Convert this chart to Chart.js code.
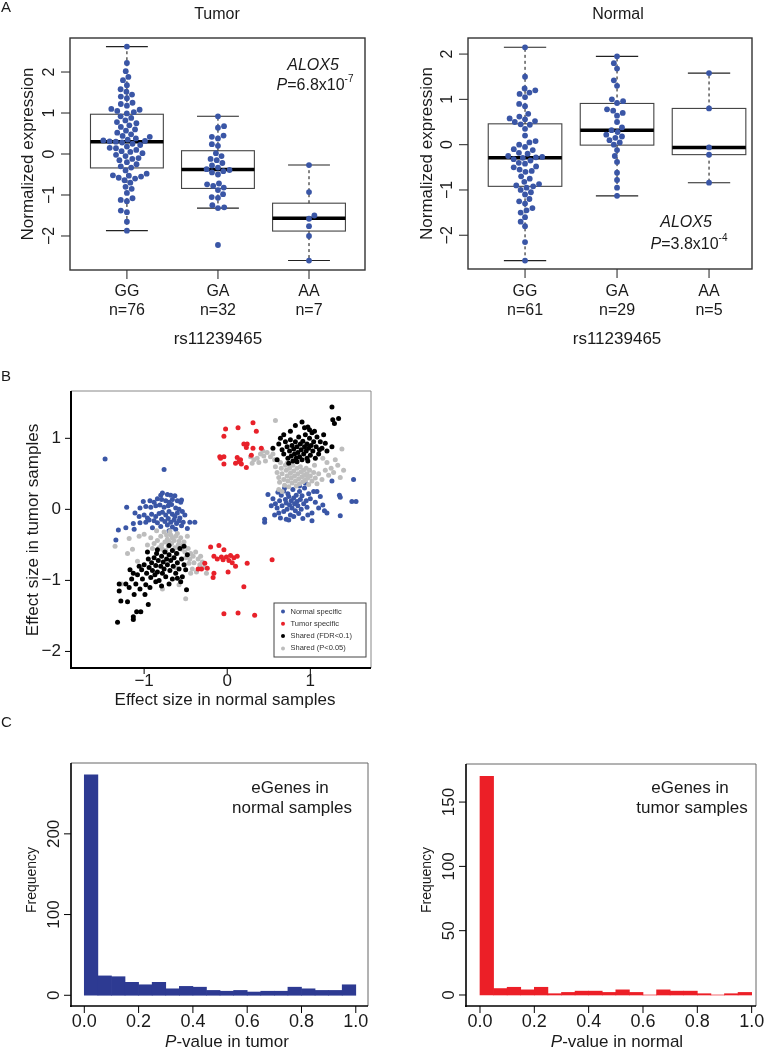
<!DOCTYPE html>
<html>
<head>
<meta charset="utf-8">
<script src="https://cdn.jsdelivr.net/npm/chart.js@4.4.1/dist/chart.umd.min.js"></script>
<style>
  html, body { margin: 0; padding: 0; background: #fff; }
  #wrap { position: relative; width: 767px; height: 1050px; overflow: hidden; }
  #wrap canvas { position: absolute; left: 0; top: 0; }
</style>
</head>
<body>
<div id="wrap">
  <canvas id="tumorBox" width="767" height="1050"></canvas>
  <canvas id="normalBox" width="767" height="1050"></canvas>
  <canvas id="effect" width="767" height="1050"></canvas>
  <canvas id="histNormal" width="767" height="1050"></canvas>
  <canvas id="histTumor" width="767" height="1050"></canvas>
</div>
<script>
// ---------- data ----------
const genotypes = ['GG', 'GA', 'AA'];
const tumorCounts = ['n=76', 'n=32', 'n=7'];
const normalCounts = ['n=61', 'n=29', 'n=5'];
const exprTicks = [-2, -1, 0, 1, 2];

const tumorGG = [2.62, 2.22, 2.02, 1.88, 1.80, 1.68, 1.58, 1.52, 1.45, 1.40, 1.36, 1.25, 1.22, 1.18, 1.10, 1.08, 1.05, 1.02, 0.99,
  0.92, 0.88, 0.82, 0.78, 0.75, 0.70, 0.66, 0.60, 0.57, 0.52, 0.48, 0.44, 0.42, 0.38, 0.35, 0.33, 0.32, 0.31, 0.30,
  0.28, 0.25, 0.22, 0.18, 0.15, 0.14, 0.10, 0.07, 0.05, 0.02, -0.02, -0.05, -0.10, -0.12, -0.15, -0.20, -0.25, -0.30, -0.33,
  -0.40, -0.48, -0.52, -0.53, -0.55, -0.58, -0.60, -0.64, -0.70, -0.80, -0.85, -0.95, -1.08, -1.12, -1.15, -1.38, -1.42, -1.65, -1.87];
const tumorGA = [0.92, 0.68, 0.64, 0.45, 0.42, 0.38, 0.24, 0.20,
  0.02, -0.05, -0.12, -0.15, -0.22, -0.28, -0.33, -0.37,
  -0.39, -0.42, -0.45, -0.50, -0.72, -0.74, -0.78, -0.82,
  -0.88, -0.98, -1.05, -1.07, -1.25, -1.30, -1.32, -2.22];
const tumorAA = [-0.27, -0.93, -1.50, -1.58, -1.76, -2.00, -2.60];

const normalGG = [2.15, 1.50, 1.24, 1.20, 1.15, 1.12, 1.05, 0.90, 0.85, 0.68, 0.62, 0.58, 0.56, 0.52, 0.50,
  0.45, 0.44, 0.35, 0.20, 0.08, 0.05, 0.00, -0.05, -0.10, -0.12, -0.18, -0.20, -0.25, -0.27, -0.28,
  -0.29,
  -0.32, -0.35, -0.40, -0.42, -0.48, -0.50, -0.55, -0.58, -0.60, -0.70, -0.75, -0.82, -0.87, -0.90, -0.92,
  -0.95, -1.00, -1.05, -1.10, -1.20, -1.25, -1.30, -1.40, -1.45, -1.50, -1.60, -1.70, -1.80, -2.15, -2.56];
const normalGA = [1.95, 1.80, 1.68, 1.42, 1.30, 1.00, 0.96,
  0.92, 0.78, 0.75, 0.70, 0.64, 0.50, 0.38,
  0.32,
  0.28, 0.22, 0.18, 0.15, 0.10, 0.05, 0.00,
  -0.12, -0.25, -0.38, -0.62, -0.78, -0.95, -1.13];
const normalAA = [1.58, 0.80, -0.06, -0.22, -0.84];

// [lower whisker, Q1, median, Q3, upper whisker]
const tumorBoxes = [[-1.87, -0.34, 0.30, 0.97, 2.62], [-1.32, -0.84, -0.38, 0.08, 0.92], [-2.60, -1.88, -1.57, -1.20, -0.27]];
const normalBoxes = [[-2.56, -0.92, -0.29, 0.46, 2.15], [-1.13, -0.01, 0.32, 0.91, 1.95], [-0.84, -0.22, -0.06, 0.80, 1.58]];

const effectXTicks = [-1, 0, 1];
const effectYTicks = [-2, -1, 0, 1];

const normalSpecific = [
  [-1.47, 0.71], [-0.76, 0.56], [-1.21, 0.03], [-1.34, -0.43], [-1.31, -0.29], [-1.22, -0.26], [-1.11, -0.05], [-1.12, -0.28],
  [-0.78, 0.23], [-0.80, 0.20], [-0.72, 0.21], [-0.68, 0.20], [-0.63, 0.19], [-0.60, 0.12], [-0.56, 0.10], [-0.55, 0.13],
  [-1.01, 0.11], [-0.93, 0.12], [-0.88, 0.10], [-0.84, 0.15], [-0.79, 0.14], [-0.74, 0.12], [-0.70, 0.10], [-0.66, 0.14],
  [-1.05, 0.02], [-0.98, 0.04], [-0.92, 0.03], [-0.86, 0.05], [-0.81, 0.06], [-0.76, 0.03], [-0.71, 0.05], [-0.67, 0.07],
  [-0.62, 0.02], [-0.58, 0.00], [-0.54, -0.03], [-1.06, -0.10], [-1.00, -0.08], [-0.96, -0.12], [-0.91, -0.07], [-0.86, -0.10],
  [-0.82, -0.06], [-0.78, -0.04], [-0.74, -0.08], [-0.70, -0.03], [-0.66, -0.07], [-0.63, -0.10], [-0.60, -0.05], [-0.57, -0.12],
  [-0.51, -0.08], [-1.13, -0.20], [-1.05, -0.19], [-0.98, -0.18], [-0.94, -0.15], [-0.88, -0.16], [-0.84, -0.19], [-0.79, -0.14],
  [-0.75, -0.17], [-0.71, -0.13], [-0.68, -0.18], [-0.64, -0.15], [-0.61, -0.20], [-0.58, -0.16], [-0.53, -0.18], [-0.45, -0.18],
  [-0.39, -0.18], [-0.90, -0.26], [-0.80, -0.24], [-0.72, -0.22], [-0.66, -0.25], [-0.62, -0.28], [-0.55, -0.23], [-0.48, -0.27],
  [-0.70, -0.30],
  [0.45, -0.14], [0.45, -0.18], [0.71, -0.14], [1.02, -0.16], [1.20, -0.05], [1.36, -0.09], [1.50, 0.11], [1.55, 0.11],
  [1.35, 0.20], [1.36, 0.17], [1.26, 0.40], [1.52, 0.42], [0.94, 0.37], [1.08, 0.25], [0.49, 0.21], [0.55, 0.15],
  [0.58, 0.08], [0.60, 0.02], [0.62, -0.05], [0.63, 0.12], [0.65, 0.20], [0.66, 0.05], [0.68, 0.26], [0.68, -0.03],
  [0.70, 0.14], [0.71, 0.09], [0.72, 0.00], [0.73, 0.22], [0.74, 0.18], [0.75, 0.06], [0.76, -0.08], [0.77, 0.12],
  [0.78, 0.02], [0.79, 0.28], [0.80, 0.16], [0.81, 0.08], [0.82, -0.02], [0.83, 0.20], [0.84, 0.11], [0.85, 0.05],
  [0.86, -0.06], [0.87, 0.25], [0.88, 0.14], [0.89, 0.00], [0.90, 0.19], [0.91, -0.13], [0.92, 0.08], [0.93, 0.30],
  [0.95, 0.12], [0.96, 0.03], [0.98, 0.22], [1.00, 0.15], [1.02, -0.05], [1.04, 0.25], [1.06, 0.10], [1.10, 0.02],
  [1.12, 0.18], [1.15, 0.06], [0.57, -0.08], [0.64, -0.12], [0.69, 0.30], [0.74, -0.15], [0.80, -0.10], [0.97, -0.08],
  [0.61, 0.24], [0.53, 0.05], [0.87, 0.33], [1.17, -0.02]
];
const tumorSpecific = [
  [0.31, 1.22], [0.13, 1.15], [-0.02, 1.13], [0.35, 1.10], [-0.04, 1.03], [0.20, 0.92], [0.24, 0.92], [0.23, 0.87],
  [0.31, 0.86], [0.41, 0.86], [-0.09, 0.74], [-0.04, 0.74], [-0.04, 0.64], [0.12, 0.73], [0.14, 0.67], [0.10, 0.65],
  [0.17, 0.64], [0.23, 0.59], [0.29, 0.76], [0.16, 0.70], [-0.08, 0.72],
  [-0.20, -0.53], [-0.10, -0.51], [-0.04, -0.57], [-0.16, -0.66], [-0.07, -0.67], [-0.01, -0.67], [0.04, -0.65], [0.08, -0.68],
  [0.12, -0.66], [-0.05, -0.71], [0.02, -0.72], [-0.12, -0.70], [-0.35, -0.84], [-0.31, -0.84], [-0.27, -0.76], [-0.16, -0.90],
  [-0.17, -0.96], [0.01, -0.88], [0.10, -0.80], [0.24, -0.76], [0.54, -0.71], [0.20, -1.09], [-0.04, -1.47], [0.13, -1.46],
  [0.33, -1.49], [-0.24, -0.83], [0.06, -0.75]
];
const sharedFdr = [
  [-1.32, -1.59], [-1.13, -1.55], [-1.13, -1.51], [-1.28, -1.29], [-1.30, -1.15], [-1.30, -1.05], [-1.09, -1.44], [-1.04, -1.44],
  [-0.95, -1.34], [-0.49, -1.13], [-0.60, -0.97], [-0.52, -0.52], [-0.70, -0.51], [-0.84, -0.57],
  [-1.22, -1.05], [-1.18, -1.10], [-1.15, -0.98], [-1.12, -1.20], [-1.10, -1.05], [-1.08, -0.92], [-1.05, -1.12], [-1.03, -0.85],
  [-1.02, -0.98], [-1.00, -0.78], [-0.98, -1.06], [-0.97, -0.90], [-0.95, -0.70], [-0.94, -0.82], [-0.92, -0.96], [-0.91, -0.75],
  [-0.90, -0.86], [-0.88, -0.68], [-0.87, -0.92], [-0.86, -0.79], [-0.85, -0.62], [-0.84, -0.88], [-0.83, -0.72], [-0.82, -1.00],
  [-0.80, -0.80], [-0.79, -0.66], [-0.78, -0.90], [-0.77, -0.74], [-0.76, -0.84], [-0.75, -0.60], [-0.74, -0.95], [-0.73, -0.70],
  [-0.72, -0.78], [-0.70, -0.64], [-0.69, -0.86], [-0.68, -0.72], [-0.66, -0.58], [-0.65, -0.80], [-0.64, -0.68], [-0.62, -0.90],
  [-0.61, -0.62], [-0.60, -0.75], [-0.58, -0.84], [-0.57, -0.55], [-0.55, -0.70], [-0.54, -0.95], [-0.52, -0.78], [-0.50, -0.85],
  [-0.48, -0.64], [-1.20, -1.30], [-1.17, -0.85], [-0.99, -1.20], [-0.93, -1.10], [-0.86, -1.02], [-0.79, -1.08], [-0.70, -1.05],
  [-0.66, -0.98], [-1.06, -0.80], [-0.96, -0.60], [-1.13, -0.90], [-0.56, -1.02],
  [1.26, 1.44], [1.27, 1.26], [1.34, 1.28], [1.29, 1.21], [0.82, 1.18], [0.97, 1.16], [0.99, 1.12], [1.05, 1.10],
  [0.90, 1.23], [0.64, 1.00], [0.76, 1.10], [1.18, 0.93], [1.26, 0.88], [1.11, 0.84], [0.60, 0.70], [0.55, 0.86],
  [0.84, 0.67], [0.96, 0.72], [0.62, 0.92], [0.66, 0.84], [0.68, 0.78], [0.70, 0.95], [0.72, 0.88], [0.73, 0.72],
  [0.75, 0.82], [0.76, 0.98], [0.77, 0.75], [0.78, 0.90], [0.79, 0.68], [0.80, 0.85], [0.81, 0.78], [0.82, 0.95],
  [0.83, 0.72], [0.84, 0.88], [0.85, 0.80], [0.86, 1.02], [0.87, 0.74], [0.88, 0.92], [0.89, 0.84], [0.90, 0.70],
  [0.91, 0.96], [0.92, 0.78], [0.93, 0.88], [0.94, 1.05], [0.95, 0.82], [0.96, 0.92], [0.97, 0.68], [0.98, 0.86],
  [0.99, 1.00], [1.00, 0.76], [1.01, 0.90], [1.02, 1.08], [1.03, 0.82], [1.04, 0.95], [1.06, 0.72], [1.07, 0.88],
  [1.08, 1.02], [1.10, 0.78], [1.12, 0.95], [1.14, 0.86], [1.16, 1.05], [1.20, 0.82], [0.74, 0.65], [0.68, 1.05],
  [0.93, 1.15]
];
const sharedP = [
  [-1.35, -0.52], [-1.18, -0.41], [-1.06, -0.38], [-1.00, -0.35], [-0.92, -0.40], [-0.85, -0.30], [-0.80, -0.38], [-0.76, -0.32],
  [-0.72, -0.42], [-0.68, -0.36], [-0.64, -0.44], [-0.60, -0.34], [-0.56, -0.40], [-0.52, -0.46], [-0.48, -0.38],
  [-0.88, -0.48], [-0.84, -0.44], [-0.79, -0.50], [-0.75, -0.46], [-0.71, -0.52], [-0.67, -0.48], [-0.63, -0.54], [-0.59, -0.50],
  [-0.55, -0.56], [-0.51, -0.60], [-0.47, -0.55], [-0.44, -0.62], [-0.41, -0.66], [-0.38, -0.60], [-0.35, -0.70], [-0.32, -0.66],
  [-0.30, -0.74], [-0.28, -0.82], [-0.25, -0.90], [-0.33, -0.78], [-0.40, -0.75], [-0.45, -0.70], [-0.37, -0.88], [-0.42, -0.84],
  [-0.78, -0.56], [-0.82, -0.54], [-0.74, -0.58], [-0.70, -0.45], [-0.66, -0.40], [-0.62, -0.38], [-0.58, -0.45], [-0.54, -0.50],
  [-0.60, -0.62], [-0.50, -0.68], [-0.46, -0.76], [-0.44, -0.90], [-0.58, -1.06], [-0.50, -1.26], [-0.78, -1.12], [-1.08, -0.73],
  [-1.20, -0.62], [-1.14, -0.56], [-1.27, -1.05], [-0.62, -0.82], [-0.66, -0.68], [-0.90, -0.55], [-0.96, -0.50], [-0.73, -0.36],
  [-0.69, -0.31], [-0.65, -0.58],
  [0.28, 0.74], [0.32, 0.70], [0.36, 0.72], [0.40, 0.78], [0.44, 0.75], [0.48, 0.80], [0.52, 0.74], [0.30, 0.65],
  [0.38, 0.66], [0.46, 0.68], [0.55, 0.78], [0.58, 1.25], [0.43, 0.82],
  [0.58, 0.60], [0.60, 0.52], [0.62, 0.45], [0.63, 0.38], [0.65, 0.58], [0.66, 0.50], [0.68, 0.42], [0.69, 0.34],
  [0.70, 0.62], [0.71, 0.55], [0.72, 0.47], [0.73, 0.40], [0.74, 0.32], [0.75, 0.58], [0.76, 0.51], [0.77, 0.44],
  [0.78, 0.37], [0.79, 0.62], [0.80, 0.54], [0.81, 0.47], [0.82, 0.40], [0.83, 0.33], [0.84, 0.58], [0.85, 0.50],
  [0.86, 0.43], [0.87, 0.36], [0.88, 0.60], [0.89, 0.53], [0.90, 0.46], [0.91, 0.39], [0.92, 0.55], [0.93, 0.48],
  [0.94, 0.41], [0.95, 0.58], [0.96, 0.50], [0.97, 0.44], [0.98, 0.35], [0.99, 0.55], [1.00, 0.47], [1.02, 0.40],
  [1.04, 0.52], [1.06, 0.44], [1.08, 0.36], [1.10, 0.50], [1.14, 0.42], [1.18, 0.55], [1.22, 0.48], [1.25, 0.58],
  [1.28, 0.52], [1.30, 0.70], [1.33, 0.62], [1.38, 0.85], [1.40, 0.55], [1.36, 0.45], [1.20, 0.66], [1.15, 0.72],
  [0.62, 0.28], [0.66, 0.25], [0.72, 0.65], [0.64, 0.66], [1.05, 0.62], [0.57, 0.70]
];

const binStarts = [0, 0.05, 0.10, 0.15, 0.20, 0.25, 0.30, 0.35, 0.40, 0.45, 0.50, 0.55, 0.60, 0.65, 0.70, 0.75, 0.80, 0.85, 0.90, 0.95];
const binWidth = 0.05;
const freqNormalEgenes = [273, 24, 23, 16, 13, 16, 8, 11, 10, 6, 5, 6, 4, 5, 5, 10, 8, 6, 6, 13];
const freqTumorEgenes = [170, 5, 6, 4, 6, 1, 2, 3, 3, 2, 4, 2, 0, 4, 3, 3, 1, 0, 1, 2];
const pTicks = [0, 0.2, 0.4, 0.6, 0.8, 1.0];
const freqTicksNormal = [0, 100, 200];
const freqTicksTumor = [0, 50, 100, 150];

// ---------- layout / style ----------
const W = 767, H = 1050;
const FONT = '"Liberation Sans", Arial, Helvetica, sans-serif';
const INK = '#1a1a1a';
const DOT_BLUE = '#3a56a6';
const BOX_HALF = 0.4;
const CAP_HALF = 0.23;

const AREA = {
  tumor:  { l: 70, t: 38, r: 365, b: 270, xmin: 0.375, xmax: 3.615, ymin: -2.83, ymax: 2.83 },
  normal: { l: 468, t: 38, r: 752, b: 269, xmin: 0.38, xmax: 3.467, ymin: -2.745, ymax: 2.355 },
  effect: { l: 71, t: 391, r: 371, b: 668, xmin: -1.88, xmax: 1.73, ymin: -2.233, ymax: 1.666 },
  histN:  { l: 71, t: 763, r: 368, b: 1006, xmin: -0.049, xmax: 1.045, ymin: -13.3, ymax: 287.8 },
  histT:  { l: 466, t: 764, r: 756, b: 1006, xmin: -0.0515, xmax: 1.016, ymin: -8.56, ymax: 179.6 }
};

function pad(a) {
  return { left: a.l, top: a.t, right: W - a.r, bottom: H - a.b };
}

function minus(v) {
  return String(v).replace('-', '\u2212');
}

function text(ctx, str, x, y, o) {
  o = o || {};
  ctx.save();
  ctx.font = (o.style || '') + ' ' + (o.size || 16) + 'px ' + FONT;
  ctx.fillStyle = o.color || INK;
  ctx.textAlign = o.align || 'center';
  ctx.textBaseline = 'middle';
  ctx.translate(x, y);
  if (o.rotate) ctx.rotate(o.rotate);
  ctx.fillText(str, 0, 0);
  ctx.restore();
}

// runs of text with mixed style, centred on cx, baseline at by
function richText(ctx, runs, cx, by) {
  ctx.save();
  let total = 0;
  runs.forEach(r => {
    ctx.font = (r.style || '') + ' ' + r.size + 'px ' + FONT;
    r.w = ctx.measureText(r.t).width;
    total += r.w;
  });
  let x = cx - total / 2;
  ctx.fillStyle = INK;
  ctx.textAlign = 'left';
  ctx.textBaseline = 'alphabetic';
  runs.forEach(r => {
    ctx.font = (r.style || '') + ' ' + r.size + 'px ' + FONT;
    ctx.fillText(r.t, x, by + (r.dy || 0));
    x += r.w;
  });
  ctx.restore();
}

function line(ctx, x1, y1, x2, y2) {
  ctx.beginPath();
  ctx.moveTo(x1, y1);
  ctx.lineTo(x2, y2);
  ctx.stroke();
}

// beeswarm placement: offsets (in x data units) so dots of diameter d don't overlap
function swarm(values, pxPerY, pxPerX, d) {
  const order = values.map((v, i) => i).sort((a, b) => values[a] - values[b]);
  const placed = [];
  const out = new Array(values.length);
  let flip = 1;
  order.forEach(i => {
    const py = values[i] * pxPerY;
    const near = placed.filter(p => Math.abs(p.y - py) < d);
    const cands = [0];
    near.forEach(p => {
      const dx = Math.sqrt(d * d - (p.y - py) * (p.y - py));
      cands.push(p.x + dx, p.x - dx);
    });
    cands.sort((a, b) => (Math.abs(a) - Math.abs(b)) || (flip * (b - a)));
    const best = cands.find(c => near.every(p => (p.x - c) * (p.x - c) + (p.y - py) * (p.y - py) >= d * d - 0.01));
    flip = -flip;
    placed.push({ x: best, y: py });
    out[i] = best / pxPerX;
  });
  return out;
}

function swarmPoints(groups, a) {
  const pxY = (a.b - a.t) / (a.ymax - a.ymin);
  const pxX = (a.r - a.l) / (a.xmax - a.xmin);
  const pts = [];
  groups.forEach((vals, i) => {
    const off = swarm(vals, pxY, pxX, 6.3);
    vals.forEach((v, k) => pts.push({ x: i + 1 + off[k], y: v }));
  });
  return pts;
}

function baseOptions(a) {
  return {
    responsive: false,
    animation: false,
    events: [],
    layout: { padding: pad(a) },
    plugins: { legend: { display: false }, tooltip: { enabled: false }, title: { display: false } },
    scales: {
      x: { type: 'linear', min: a.xmin, max: a.xmax, display: false, offset: false },
      y: { type: 'linear', min: a.ymin, max: a.ymax, display: false }
    }
  };
}

// ---------- panel A: box plots ----------
function boxPlugin(cfg) {
  return {
    id: 'box_' + cfg.name,
    beforeDatasetsDraw(chart) {
      const { ctx, scales: { x, y } } = chart;
      ctx.save();
      cfg.boxes.forEach((b, i) => {
        const c = x.getPixelForValue(i + 1);
        const hw = x.getPixelForValue(i + 1 + BOX_HALF) - c;
        const cw = x.getPixelForValue(i + 1 + CAP_HALF) - c;
        const [lo, q1, med, q3, hi] = b.map(v => y.getPixelForValue(v));
        ctx.strokeStyle = '#222';
        ctx.lineWidth = 1.1;
        ctx.setLineDash([3, 3]);
        line(ctx, c, q3, c, hi);
        line(ctx, c, q1, c, lo);
        ctx.setLineDash([]);
        line(ctx, c - cw, hi, c + cw, hi);
        line(ctx, c - cw, lo, c + cw, lo);
        ctx.strokeStyle = '#444';
        ctx.strokeRect(c - hw, q3, 2 * hw, q1 - q3);
        ctx.strokeStyle = '#000';
        ctx.lineWidth = 3.5;
        line(ctx, c - hw, med, c + hw, med);
      });
      ctx.restore();
    },
    afterDraw(chart) {
      const { ctx, chartArea: ca, scales: { x, y } } = chart;
      ctx.save();
      ctx.strokeStyle = '#333';
      ctx.lineWidth = 1.4;
      ctx.strokeRect(ca.left, ca.top, ca.right - ca.left, ca.bottom - ca.top);
      ctx.lineWidth = 1.1;
      exprTicks.forEach(t => {
        const py = y.getPixelForValue(t);
        line(ctx, ca.left, py, ca.left - 9, py);
        text(ctx, minus(t), ca.left - 20, py, { size: 16, rotate: -Math.PI / 2 });
      });
      genotypes.forEach((g, i) => {
        const px = x.getPixelForValue(i + 1);
        line(ctx, px, ca.bottom, px, ca.bottom + 9);
        text(ctx, g, px, 292, { size: 16 });
        text(ctx, cfg.counts[i], px, 311, { size: 16 });
      });
      ctx.restore();
      const mid = x.getPixelForValue(2);
      text(ctx, cfg.title, cfg.titleX, 15, { size: 16 });
      text(ctx, 'rs11239465', mid, 339, { size: 17 });
      text(ctx, 'Normalized expression', cfg.yTitleX, (ca.top + ca.bottom) / 2, { size: 17, rotate: -Math.PI / 2 });
      text(ctx, 'ALOX5', cfg.gene[0], cfg.gene[1], { size: 16, style: 'italic' });
      richText(ctx, [
        { t: 'P', size: 16, style: 'italic' },
        { t: cfg.pval, size: 16 },
        { t: cfg.pexp, size: 10, dy: -8 }
      ], cfg.pline[0], cfg.pline[1]);
      if (cfg.panel) text(ctx, cfg.panel, 1, 8, { size: 15, align: 'left' });
    }
  };
}

function makeBoxChart(id, a, groups, cfg) {
  new Chart(document.getElementById(id), {
    type: 'scatter',
    data: {
      datasets: [{
        data: swarmPoints(groups, a),
        pointRadius: 2.9,
        pointBackgroundColor: DOT_BLUE,
        pointBorderWidth: 0
      }]
    },
    options: baseOptions(a),
    plugins: [boxPlugin(cfg)]
  });
}

makeBoxChart('tumorBox', AREA.tumor, [tumorGG, tumorGA, tumorAA], {
  name: 'tumor', boxes: tumorBoxes, counts: tumorCounts, title: 'Tumor', titleX: 217,
  yTitleX: 28, gene: [313, 66], pval: '=6.8x10', pexp: '-7', pline: [315, 90], panel: 'A'
});
makeBoxChart('normalBox', AREA.normal, [normalGG, normalGA, normalAA], {
  name: 'normal', boxes: normalBoxes, counts: normalCounts, title: 'Normal', titleX: 618,
  yTitleX: 427, gene: [686, 223], pval: '=3.8x10', pexp: '-4', pline: [689, 249]
});

// ---------- panel B: effect size scatter ----------
const effectPlugin = {
  id: 'effectFrame',
  afterDraw(chart) {
    const { ctx, chartArea: ca, scales: { x, y } } = chart;
    ctx.save();
    ctx.strokeStyle = '#888';
    ctx.lineWidth = 1;
    line(ctx, ca.left, ca.top, ca.right, ca.top);
    line(ctx, ca.right, ca.top, ca.right, ca.bottom);
    ctx.strokeStyle = '#000';
    ctx.lineWidth = 2;
    line(ctx, ca.left, ca.top, ca.left, ca.bottom + 1);
    line(ctx, ca.left - 1, ca.bottom, ca.right, ca.bottom);
    ctx.lineWidth = 1;
    effectYTicks.forEach(t => {
      const py = y.getPixelForValue(t);
      line(ctx, ca.left, py, ca.left - 6, py);
      text(ctx, minus(t), 61, py, { size: 17, align: 'right' });
    });
    effectXTicks.forEach(t => {
      const px = x.getPixelForValue(t);
      line(ctx, px, ca.bottom, px, ca.bottom + 6);
      text(ctx, minus(t), px, 681, { size: 17 });
    });
    text(ctx, 'Effect size in tumor samples', 33, 530, { size: 17, rotate: -Math.PI / 2 });
    text(ctx, 'Effect size in normal samples', 225, 700, { size: 17 });
    text(ctx, 'B', 1, 377, { size: 15, align: 'left' });

    // legend box
    const lx = 274, ly = 603, lw = 92, lh = 54;
    ctx.fillStyle = '#fff';
    ctx.fillRect(lx, ly, lw, lh);
    ctx.strokeStyle = '#444';
    ctx.lineWidth = 1;
    ctx.strokeRect(lx, ly, lw, lh);
    chart.data.datasets.forEach((ds, i) => {
      const yy = ly + 8.5 + i * 12.3;
      ctx.beginPath();
      ctx.fillStyle = ds.pointBackgroundColor;
      ctx.arc(lx + 9, yy, 2, 0, Math.PI * 2);
      ctx.fill();
      text(ctx, ds.label, lx + 16.5, yy, { size: 7.5, align: 'left', color: '#333' });
    });
    ctx.restore();
  }
};

function scatterSet(label, data, color, order) {
  return { label, data, order, pointRadius: 2.5, pointBackgroundColor: color, pointBorderWidth: 0 };
}

new Chart(document.getElementById('effect'), {
  type: 'scatter',
  data: {
    datasets: [
      scatterSet('Normal specific', normalSpecific, '#3a56a6', 3),
      scatterSet('Tumor specific', tumorSpecific, '#e8212a', 1),
      scatterSet('Shared (FDR<0.1)', sharedFdr, '#000000', 0),
      scatterSet('Shared (P<0.05)', sharedP, '#bdbdbd', 2)
    ]
  },
  options: baseOptions(AREA.effect),
  plugins: [effectPlugin]
});

// ---------- panel C: histograms ----------
function histPlugin(cfg) {
  return {
    id: 'hist_' + cfg.name,
    afterDraw(chart) {
      const { ctx, chartArea: ca, scales: { x, y } } = chart;
      ctx.save();
      ctx.strokeStyle = '#666';
      ctx.lineWidth = 1;
      line(ctx, ca.left, ca.top, ca.right, ca.top);
      line(ctx, ca.right, ca.top, ca.right, ca.bottom);
      ctx.strokeStyle = '#000';
      ctx.lineWidth = 1.6;
      line(ctx, ca.left, ca.top, ca.left, ca.bottom + 1);
      line(ctx, ca.left - 1, ca.bottom, ca.right, ca.bottom);
      ctx.lineWidth = 1;
      cfg.yTicks.forEach(t => {
        const py = y.getPixelForValue(t);
        line(ctx, ca.left, py, ca.left - 7, py);
        text(ctx, String(t), ca.left - 17, py, { size: 17, rotate: -Math.PI / 2 });
      });
      pTicks.forEach(t => {
        const px = x.getPixelForValue(t);
        line(ctx, px, ca.bottom, px, ca.bottom + 7);
        text(ctx, t.toFixed(1), px, 1022, { size: 18 });
      });
      ctx.restore();
      text(ctx, 'Frequency', cfg.freqX, 880, { size: 14, rotate: -Math.PI / 2 });
      text(ctx, 'eGenes in', cfg.noteX, 788, { size: 17 });
      text(ctx, cfg.note2, cfg.noteX + 2, 808, { size: 17 });
      richText(ctx, [
        { t: 'P', size: 17, style: 'italic' },
        { t: cfg.xTitle, size: 17 }
      ], cfg.xTitleX, 1047);
      if (cfg.panel) text(ctx, cfg.panel, 1, 723, { size: 15, align: 'left' });
    }
  };
}

function makeHist(id, a, freq, color, cfg) {
  const opts = baseOptions(a);
  new Chart(document.getElementById(id), {
    type: 'bar',
    data: {
      datasets: [{
        data: freq.map((f, i) => ({ x: binStarts[i] + binWidth / 2, y: f })),
        backgroundColor: color,
        borderWidth: 0,
        barPercentage: 1,
        categoryPercentage: 1
      }]
    },
    options: opts,
    plugins: [histPlugin(cfg)]
  });
}

makeHist('histNormal', AREA.histN, freqNormalEgenes, '#2d3a92', {
  name: 'n', yTicks: freqTicksNormal, freqX: 32, noteX: 290, note2: 'normal samples',
  xTitle: '-value in tumor', xTitleX: 227, panel: 'C'
});
makeHist('histTumor', AREA.histT, freqTumorEgenes, '#ec1f27', {
  name: 't', yTicks: freqTicksTumor, freqX: 427, noteX: 690, note2: 'tumor samples',
  xTitle: '-value in normal', xTitleX: 617
});
</script>
</body>
</html>
